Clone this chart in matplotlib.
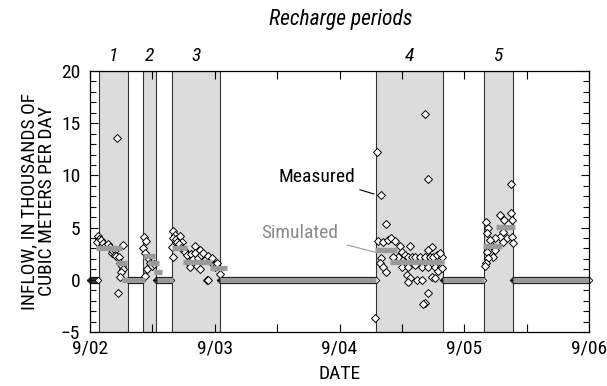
import numpy as np
import matplotlib.pyplot as plt
from matplotlib.ticker import MultipleLocator, FixedLocator, FixedFormatter
import matplotlib.transforms as mtransforms

plt.rcParams['font.family'] = ['Roboto Condensed', 'Liberation Sans Narrow', 'Liberation Sans']

# time axis: days since 9/02 00:00
day_ticks = [0, 1, 2, 3, 4]
day_labels = ["9/02", "9/03", "9/04", "9/05", "9/06"]

# recharge periods (start, end) in days
periods = [(0.072, 0.305), (0.425, 0.529), (0.657, 1.042), (2.293, 2.830), (3.158, 3.391)]
period_names = ["1", "2", "3", "4", "5"]

# measured inflow during recharge periods (thousands m3/day)
meas_t = [
    # period 1
    0.064, 0.072, 0.056, 0.088, 0.104, 0.120, 0.144, 0.160, 0.176, 0.184, 0.200, 0.200,
    0.208, 0.232, 0.265, 0.240, 0.257, 0.265, 0.248, 0.240, 0.216, 0.224,
    # period 2
    0.433, 0.449, 0.425, 0.441, 0.465, 0.481, 0.497, 0.457, 0.441, 0.513,
    # period 3
    0.665, 0.681, 0.665, 0.689, 0.721, 0.697, 0.737, 0.705, 0.713, 0.657, 0.665, 0.729,
    0.754, 0.762, 0.778, 0.786, 0.802, 0.810, 0.826, 0.842, 0.842, 0.858, 0.866, 0.882,
    0.882, 0.890, 0.906, 0.922, 0.938, 0.946, 0.946, 0.962, 0.978, 0.990, 1.002, 1.018,
    1.042,
    # period 4
    2.301, 2.333, 2.685, 2.709, 2.373, 2.285, 2.309, 2.349, 2.389, 2.413, 2.445, 2.333,
    2.325, 2.349, 2.373, 2.485, 2.501, 2.525, 2.565, 2.549, 2.581, 2.469, 2.429, 2.605,
    2.645, 2.685, 2.725, 2.749, 2.782, 2.822, 2.741, 2.709, 2.806, 2.501, 2.549, 2.605,
    2.661, 2.709, 2.766, 2.814, 2.541, 2.565, 2.549, 2.621, 2.661, 2.741, 2.766, 2.790,
    2.822, 2.709, 2.685, 2.669,
    # period 5
    3.174, 3.190, 3.182, 3.287, 3.319, 3.375, 3.383, 3.375, 3.351, 3.311, 3.343, 3.383,
    3.391, 3.287, 3.246, 3.206, 3.222, 3.182, 3.230, 3.190, 3.174, 3.166, 3.246, 3.311,
]
meas_v = [
    4.2, 3.9, 3.6, 3.8, 3.5, 3.2, 3.4, 3.1, 2.6, 2.8, 2.9, 2.4,
    2.3, 2.2, 3.3, 1.6, 1.3, 1.0, 0.7, 0.3, 13.6, -1.3,
    4.1, 3.7, 3.0, 2.6, 2.1, 1.6, 1.3, 1.0, 0.4, 1.5,
    4.7, 4.3, 4.0, 3.9, 4.2, 3.6, 3.6, 3.2, 3.4, 3.1, 2.2, 3.0,
    2.9, 2.7, 2.4, 1.7, 1.2, 2.5, 2.0, 3.2, 2.6, 1.3, 2.1, 2.9,
    1.0, 2.4, 2.6, 1.9, 0.0, 2.3, 0.0, 1.8, 2.1, 1.4, 1.2, 1.6,
    0.6,
    12.2, 8.1, 15.9, 9.7, 5.3, -3.7, 3.7, 3.6, 3.8, 4.0, 3.7, 2.1,
    1.6, 1.2, 0.7, 3.2, 2.7, 2.4, 3.2, 2.2, 2.2, 2.2, 2.2, 2.2,
    2.2, 2.2, 2.2, 2.2, 2.4, 2.2, 3.1, 2.9, 2.6, 1.2, 1.2, 1.4,
    1.2, 1.2, 1.2, 1.2, 0.5, 0.2, -0.2, 0.0, 0.0, 0.3, 0.2, 0.8,
    1.1, -1.3, -2.2, -2.3,
    5.5, 5.0, 4.5, 6.2, 5.7, 6.4, 5.7, 9.2, 5.3, 4.6, 4.0, 4.1,
    3.5, 4.1, 4.0, 3.8, 3.2, 2.7, 2.2, 2.1, 1.6, 1.3, 2.9, 3.6,
]

# no-inflow intervals between recharge periods (measured = 0)
zero_spans = [(0.0, 0.072), (0.305, 0.425), (0.529, 0.657), (1.042, 2.293),
              (2.830, 3.158), (3.391, 4.0)]

# simulated inflow steps: start, end, value
sim_start = [0.048, 0.208, 0.257, 0.425, 0.465, 0.513, 0.537, 0.657, 0.745, 0.962, 1.042,
             2.285, 2.405, 2.830, 3.150, 3.255, 3.391]
sim_end = [0.257, 0.297, 0.441, 0.521, 0.553, 0.577, 0.665, 0.778, 0.978, 1.098, 2.293,
           2.461, 2.838, 3.158, 3.303, 3.407, 4.0]
sim_v = [3.0, 1.6, 0.0, 2.3, 1.6, 0.7, 0.0, 3.0, 1.7, 1.1, 0.0,
         2.9, 1.7, 0.0, 3.2, 5.1, 0.0]

fig = plt.figure(figsize=(6.07, 3.86), dpi=100)
ax = fig.add_axes([90 / 607, 54 / 386, 499 / 607, 261 / 386])

for (a, b) in periods:
    ax.axvspan(a, b, facecolor='#dcdcdc', edgecolor='#333333', lw=0.8, zorder=0)

# zero readings between periods
zt = np.concatenate([np.arange(a, b, 0.008) for a, b in zero_spans])
ax.plot(zt, np.zeros_like(zt), ls='none', marker='D', ms=3.4, mfc='white',
        mec='black', mew=0.6, zorder=2, clip_on=False)

ax.plot(meas_t, meas_v, ls='none', marker='D', ms=3.8, mfc='white',
        mec='black', mew=0.7, zorder=3)

# simulated steps drawn over the measured points
for a, b, v in zip(sim_start, sim_end, sim_v):
    ax.plot([a, b], [v, v], color='#9a9a9a', lw=3.8, solid_capstyle='butt',
            zorder=4)

ax.set_xlim(0, 4)
ax.set_ylim(-5, 20)
ax.xaxis.set_major_locator(FixedLocator(day_ticks))
ax.xaxis.set_major_formatter(FixedFormatter(day_labels))
ax.xaxis.set_minor_locator(MultipleLocator(0.5))
ax.yaxis.set_major_locator(MultipleLocator(5))
ax.yaxis.set_minor_locator(MultipleLocator(1))
ax.tick_params(which='both', direction='in', top=True, right=True, labelsize=14,
               width=0.8, color='black')
ax.tick_params(axis='y', which='major', length=6, pad=7)
ax.tick_params(axis='y', which='minor', length=4.5)
ax.tick_params(axis='x', which='both', length=6, pad=5.5)
for s in ax.spines.values():
    s.set_linewidth(0.9)

ax.set_xlabel("DATE", fontsize=14, labelpad=5)
ax.set_ylabel("INFLOW, IN THOUSANDS OF\nCUBIC METERS PER DAY", fontsize=14,
              linespacing=1.0)
ax.yaxis.set_label_coords(-0.068, 0.5)

# period numbers above the plot
trans = mtransforms.blended_transform_factory(ax.transData, ax.transAxes)
for (a, b), name in zip(periods, period_names):
    ax.text((a + b) / 2, 1.057, name, transform=trans, ha='center', va='center',
            fontsize=14, style='italic')
fig.text(341 / 607, 1 - 20 / 386, "Recharge periods", ha='center', va='center',
         fontsize=15.5, style='italic')

ax.annotate("Measured", xy=(2.309, 8.1), xytext=(2.124, 9.87), fontsize=14,
            ha='right', va='center',
            arrowprops=dict(arrowstyle='-', color='black', lw=0.8,
                            shrinkA=3, shrinkB=3))
ax.annotate("Simulated", xy=(2.301, 2.6), xytext=(1.988, 4.5), fontsize=14,
            ha='right', va='center', color='#8a8a8a',
            arrowprops=dict(arrowstyle='-', color='#9a9a9a', lw=0.8,
                            shrinkA=5, shrinkB=0))

fig.savefig("out.png", dpi=100)
